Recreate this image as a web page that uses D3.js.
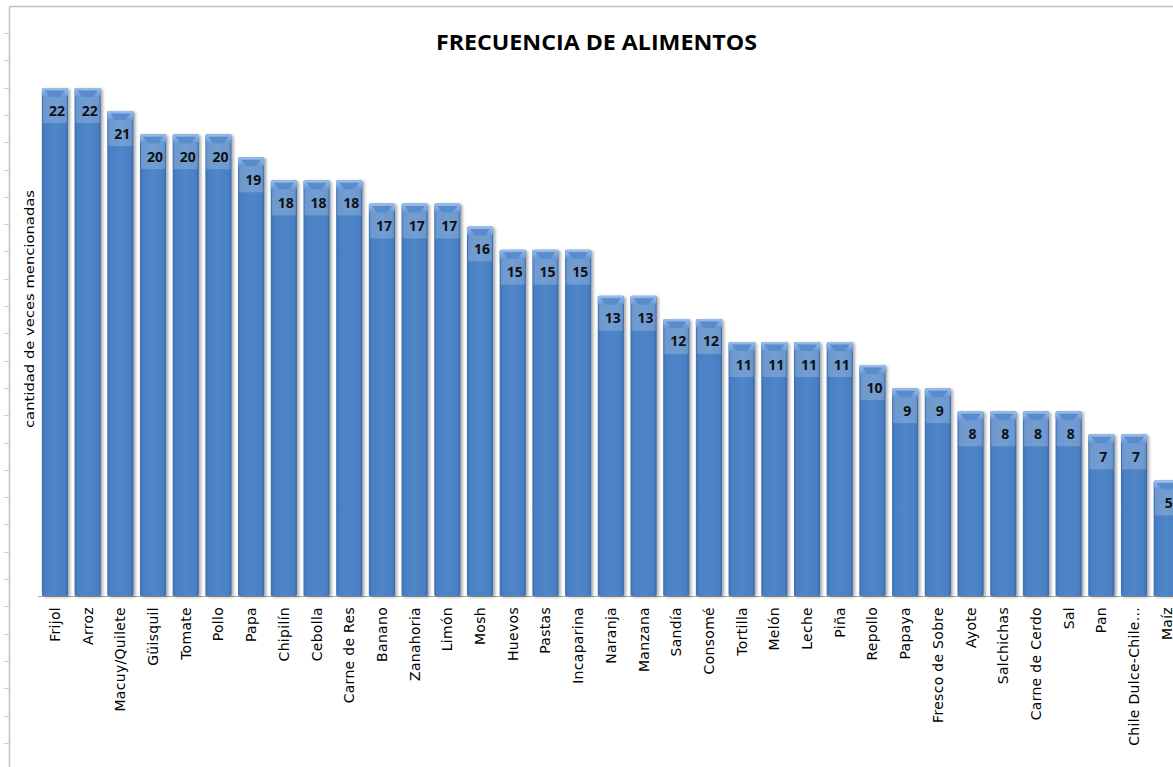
<!DOCTYPE html>
<html>
<head>
<meta charset="utf-8">
<script src="https://cdn.jsdelivr.net/npm/d3@7"></script>
<style>
  body { margin: 0; background: #fff; }
  svg { display: block; }
</style>
</head>
<body>
<svg id="chart"></svg>
<script>
const width = 1173;
const height = 767;

const categories = [
  "Frijol", "Arroz", "Macuy/Quilete", "Güisquil", "Tomate", "Pollo", "Papa",
  "Chipilín", "Cebolla", "Carne de Res", "Banano", "Zanahoria", "Limón", "Mosh",
  "Huevos", "Pastas", "Incaparina", "Naranja", "Manzana", "Sandía", "Consomé",
  "Tortilla", "Melón", "Leche", "Piña", "Repollo", "Papaya", "Fresco de Sobre",
  "Ayote", "Salchichas", "Carne de Cerdo", "Sal", "Pan", "Chile Dulce-Chile...", "Maíz"
];
const values = [
  22, 22, 21, 20, 20, 20, 19,
  18, 18, 18, 17, 17, 17, 16,
  15, 15, 15, 13, 13, 12, 12,
  11, 11, 11, 11, 10, 9, 9,
  8, 8, 8, 8, 7, 7, 5
];
const chartTitle = "FRECUENCIA DE ALIMENTOS";
const yTitle = "cantidad de veces mencionadas";

const data = categories.map((c, i) => ({ name: c, value: values[i] }));

const svg = d3.select("#chart").attr("width", width).attr("height", height);

const defs = svg.append("defs");

// body gradient (cylinder-ish)
const bodyGrad = defs.append("linearGradient").attr("id", "bodyGrad")
  .attr("x1", "0%").attr("x2", "100%").attr("y1", "0%").attr("y2", "0%");
bodyGrad.append("stop").attr("offset", "0%").attr("stop-color", "#3e6fae");
bodyGrad.append("stop").attr("offset", "12%").attr("stop-color", "#4a80c4");
bodyGrad.append("stop").attr("offset", "50%").attr("stop-color", "#4f86c8");
bodyGrad.append("stop").attr("offset", "88%").attr("stop-color", "#4a80c3");
bodyGrad.append("stop").attr("offset", "100%").attr("stop-color", "#3a69a6");

const capGrad = defs.append("linearGradient").attr("id", "capGrad")
  .attr("x1", "0%").attr("x2", "0%").attr("y1", "0%").attr("y2", "100%");
capGrad.append("stop").attr("offset", "0%").attr("stop-color", "#9dbfea");
capGrad.append("stop").attr("offset", "100%").attr("stop-color", "#6696d4");

const shadow = defs.append("filter").attr("id", "shadow")
  .attr("x", "-20%").attr("y", "-5%").attr("width", "150%").attr("height", "115%");
shadow.append("feDropShadow").attr("dx", 2).attr("dy", 1)
  .attr("stdDeviation", 1.4).attr("flood-color", "#000").attr("flood-opacity", 0.35);

// sheet frame
svg.append("line").attr("x1", 9.5).attr("x2", width).attr("y1", 6.5).attr("y2", 6.5)
  .attr("stroke", "#c0c0c0").attr("stroke-width", 1.5);
svg.append("line").attr("x1", 9.5).attr("x2", 9.5).attr("y1", 6.5).attr("y2", height)
  .attr("stroke", "#c0c0c0").attr("stroke-width", 1.5);
svg.append("g").selectAll("line")
  .data(d3.range(33, height, 27.3))
  .enter().append("line")
  .attr("x1", 4).attr("x2", 9)
  .attr("y1", d => Math.round(d) + 0.5).attr("y2", d => Math.round(d) + 0.5)
  .attr("stroke", "#c8d0dc");

const x = d3.scaleBand()
  .domain(categories)
  .range([38.6, 38.6 + 35 * 32.7])
  .paddingInner(0.2)
  .paddingOuter(0.1);

const y = d3.scaleLinear().domain([0, 22]).range([596, 88]);

// title
svg.append("text")
  .attr("x", 596.5).attr("y", 49.5)
  .attr("text-anchor", "middle")
  .attr("font-family", "'Open Sans', sans-serif")
  .attr("font-weight", "bold")
  .attr("font-size", 22)
  .attr("textLength", 321)
  .attr("lengthAdjust", "spacingAndGlyphs")
  .attr("fill", "#000")
  .text(chartTitle);

// y axis title
svg.append("text")
  .attr("transform", "translate(34,309) rotate(-90)")
  .attr("text-anchor", "middle")
  .attr("font-family", "'DejaVu Sans', sans-serif")
  .attr("font-size", 12)
  .attr("textLength", 238)
  .attr("lengthAdjust", "spacingAndGlyphs")
  .attr("fill", "#000")
  .text(yTitle);

// baseline
svg.append("line")
  .attr("x1", 38).attr("x2", width)
  .attr("y1", y(0) + 0.5).attr("y2", y(0) + 0.5)
  .attr("stroke", "#a6a6a6");

const bar = svg.append("g").selectAll("g")
  .data(data)
  .enter().append("g")
  .attr("transform", d => "translate(" + x(d.name) + ",0)");

const bw = x.bandwidth();

bar.append("rect")
  .attr("class", "bar")
  .attr("x", 0)
  .attr("y", d => y(d.value))
  .attr("width", bw)
  .attr("height", d => y(0) - y(d.value))
  .attr("rx", 1.5)
  .attr("fill", "url(#bodyGrad)")
  .attr("filter", "url(#shadow)");

// lighter label band
bar.append("rect")
  .attr("x", 1)
  .attr("y", d => y(d.value) + 8)
  .attr("width", bw - 2)
  .attr("height", 27)
  .attr("fill", "#ffffff")
  .attr("opacity", 0.2);

// top bevel cap
bar.append("rect")
  .attr("x", 0)
  .attr("y", d => y(d.value))
  .attr("width", bw)
  .attr("height", 9)
  .attr("rx", 2)
  .attr("fill", "url(#capGrad)");

bar.append("path")
  .attr("d", d => {
    const t = y(d.value);
    return "M" + 3 + "," + (t + 2.5) + "L" + (bw - 3) + "," + (t + 2.5) +
      "L" + (bw - 8) + "," + (t + 9) + "L" + 8 + "," + (t + 9) + "Z";
  })
  .attr("fill", "#5a8bcd");

// value labels
bar.append("text")
  .attr("x", bw / 2 + 2)
  .attr("y", d => y(d.value) + 27.5)
  .attr("text-anchor", "middle")
  .attr("font-family", "'Open Sans', sans-serif")
  .attr("font-weight", "bold")
  .attr("font-size", 14)
  .attr("fill", "#111")
  .text(d => d.value);

// category labels
svg.append("g").selectAll("text")
  .data(data)
  .enter().append("text")
  .attr("transform", d => "translate(" + (x(d.name) + bw / 2 + 5) + ",607) rotate(-90)")
  .attr("text-anchor", "end")
  .attr("font-family", "'DejaVu Sans', sans-serif")
  .attr("font-size", 14)
  .attr("letter-spacing", 0.3)
  .attr("fill", "#000")
  .text(d => d.name);
</script>
</body>
</html>
